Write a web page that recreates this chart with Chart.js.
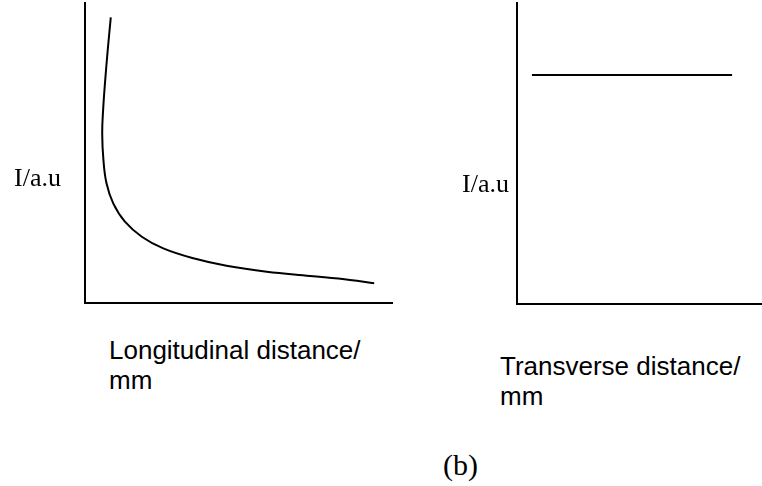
<!DOCTYPE html>
<html>
<head>
<meta charset="utf-8">
<script src="https://cdn.jsdelivr.net/npm/chart.js@4/dist/chart.umd.min.js"></script>
<style>
  html, body { margin: 0; padding: 0; background: #fff; }
  #wrap { position: relative; width: 762px; height: 486px; overflow: hidden; }
  canvas { position: absolute; top: 0; }
  .lbl { position: absolute; color: #000; white-space: nowrap; }
  .serif { font-family: "Liberation Serif", "DejaVu Serif", serif; }
  .sans { font-family: "Liberation Sans", Arial, sans-serif; font-size: 26px; line-height: 30px; }
</style>
</head>
<body>
<div id="wrap">
  <canvas id="longChart" width="400" height="320" style="left:0"></canvas>
  <canvas id="transChart" width="322" height="320" style="left:440px"></canvas>

  <div class="lbl serif" style="left:14px; top:165px; font-size:26px; line-height:26px;">I/a.u</div>
  <div class="lbl serif" style="left:462px; top:171px; font-size:26px; line-height:26px;">I/a.u</div>

  <div class="lbl sans" style="left:109px; top:335px;">Longitudinal distance/<br>mm</div>
  <div class="lbl sans" style="left:500px; top:351px;">Transverse distance/<br>mm</div>

  <div class="lbl serif" style="left:443px; top:450px; font-size:30px; line-height:30px;">(b)</div>
</div>

<script>
// Longitudinal profile: intensity falls off steeply, then levels out
const longX = [8.4, 7.4, 6.5, 5.9, 5.6, 6.0, 7.0, 9.2, 13.0, 18.5, 25.5, 35.3, 46.1, 59.2, 73.3, 86.3, 94.2];
const longY = [95.2, 84.3, 73.2, 64.3, 56.6, 47.7, 39.9, 33.2, 27.1, 22.1, 18.2, 14.9, 12.4, 10.4, 9.0, 7.7, 6.6];

// Transverse profile: flat intensity across the beam
const transX = [6.1, 87.8];
const transY = [76.1, 76.1];

function toPoints(xs, ys) {
    return xs.map((x, i) => ({ x: x, y: ys[i] }));
}

// Bare axes: no ticks, no grid, just the black axis lines
function bareScales() {
    const axis = {
        type: 'linear',
        min: 0,
        max: 100,
        ticks: { display: false },
        grid: { display: false, drawTicks: false },
        border: { display: true, color: '#000', width: 2 }
    };
    return {
        x: Object.assign({}, axis, { afterFit: s => { s.height = 0; } }),
        y: Object.assign({}, axis, { afterFit: s => { s.width = 0; } })
    };
}

function makeChart(id, points, tension, padding) {
    const ctx = document.getElementById(id).getContext('2d');
    return new Chart(ctx, {
        type: 'scatter',
        data: {
            datasets: [{
                data: points,
                showLine: true,
                tension: tension,
                borderColor: '#000',
                borderWidth: 2,
                pointRadius: 0,
                fill: false,
                clip: false
            }]
        },
        options: {
            responsive: false,
            animation: false,
            layout: { padding: padding },
            scales: bareScales(),
            plugins: {
                legend: { display: false },
                tooltip: { enabled: false }
            }
        }
    });
}

makeChart('longChart', toPoints(longX, longY), 0.4, { left: 85, top: 3, right: 8, bottom: 17 });
makeChart('transChart', toPoints(transX, transY), 0, { left: 77, top: 3, right: 0, bottom: 16 });
</script>
</body>
</html>
